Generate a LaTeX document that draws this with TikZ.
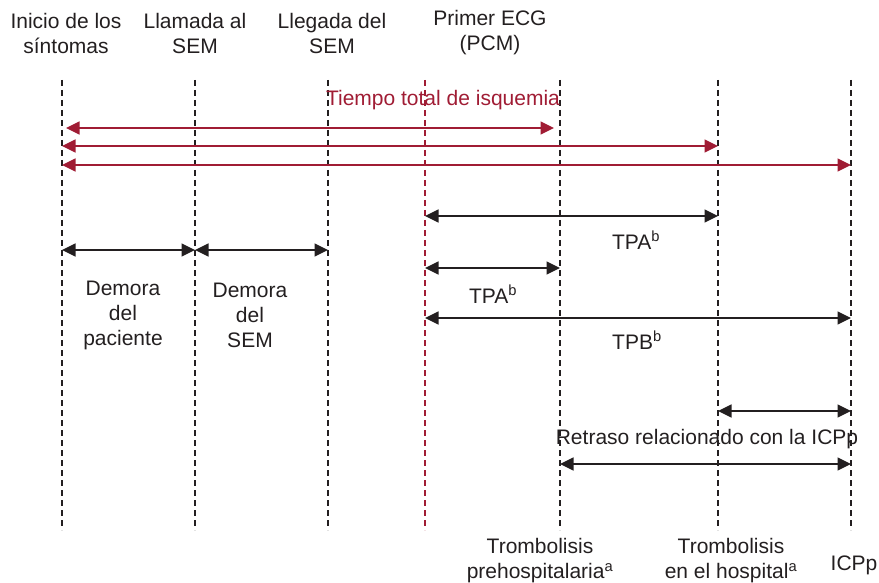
\documentclass[tikz,border=0pt]{standalone}
\usepackage{fontspec}
\setmainfont{Liberation Sans}
\usetikzlibrary{arrows.meta}
\definecolor{isq}{RGB}{160,28,52}
\definecolor{ink}{RGB}{35,31,32}
\tikzset{
  lbl/.style={font=\fontsize{21}{25}\selectfont, text=ink, align=center, inner sep=0pt},
  vline/.style={draw=ink, line width=1.1pt, dash pattern=on 6pt off 4pt},
  rline/.style={draw=isq, line width=1.1pt, dash pattern=on 6pt off 4pt},
  darr/.style={draw=ink, line width=1.3pt, {Triangle[length=13.5pt,width=13pt]}-{Triangle[length=13.5pt,width=13pt]}},
  rarr/.style={draw=isq, line width=1.3pt, {Triangle[length=13.5pt,width=13pt]}-{Triangle[length=13.5pt,width=13pt]}}
}
\begin{document}
\begin{tikzpicture}[x=1pt,y=-1pt]
\useasboundingbox (0,0) rectangle (879,583);
% vertical timeline coordinates
\foreach \n/\x in {a/62,b/195,c/328,d/425,e/560,f/718,g/851}{
  \coordinate (\n t) at (\x,80);
  \coordinate (\n b) at (\x,530);
}
\draw[vline] (at) -- (ab);
\draw[vline] (bt) -- (bb);
\draw[vline] (ct) -- (cb);
\draw[rline] (dt) -- (db);
\draw[vline] (et) -- (eb);
\draw[vline] (ft) -- (fb);
\draw[vline] (gt) -- (gb);

% top labels
\node[lbl] (n1) at (66,33) {Inicio de los\\síntomas};
\node[lbl] (n2) at (195,33) {Llamada al\\SEM};
\node[lbl] (n3) at (332,33) {Llegada del\\SEM};
\node[lbl] (n4) at (490,33) {Primer ECG\\(PCM)};

% red arrows
\node[lbl, text=isq] (tti) at (443,100) {Tiempo total de isquemia};
\coordinate (r1l) at (66,128);
\coordinate (r1r) at (554,128);
\draw[rarr] (r1l) -- (r1r);
\draw[rarr] (at |- 0,146) -- (ft |- 0,146);
\draw[rarr] (at |- 0,165) -- (gt |- 0,165);

% black arrows
\draw[darr] (dt |- 0,216) -- (ft |- 0,216);
\node[lbl] (tpa1) at (636,240) {TPA\textsuperscript{b}};
\draw[darr] (at |- 0,250) -- (bt |- 0,250);
\draw[darr] (bt |- 0,250) -- (ct |- 0,250);
\node[lbl] (dp) at (123,315) {Demora\\del\\paciente};
\node[lbl] (ds) at (250,315) {Demora\\del\\SEM};
\draw[darr] (dt |- 0,268) -- (et |- 0,268);
\node[lbl] (tpa2) at (493,294) {TPA\textsuperscript{b}};
\draw[darr] (dt |- 0,318) -- (gt |- 0,318);
\node[lbl] (tpb) at (637,340) {TPB\textsuperscript{b}};
\draw[darr] (ft |- 0,411) -- (gt |- 0,411);
\node[lbl] (ret) at (707,439) {Retraso relacionado con la ICPp};
\draw[darr] (et |- 0,464) -- (gt |- 0,464);

% bottom labels
\node[lbl] (b1) at (540,561) {Trombolisis\\prehospitalaria\textsuperscript{a}};
\node[lbl] (b2) at (731,561) {Trombolisis\\en el hospital\textsuperscript{a}};
\node[lbl] (b3) at (854,565) {ICPp};
\end{tikzpicture}
\end{document}
